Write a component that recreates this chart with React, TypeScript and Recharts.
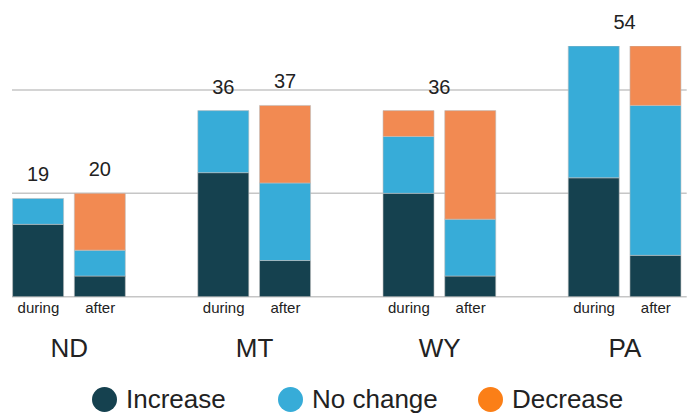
import { Bar, BarChart, CartesianGrid, LabelList, XAxis, YAxis } from "recharts";

const states = ["ND", "MT", "WY", "PA"];
const periods = ["during", "after"];
// one value per bar, in order ND during, ND after, MT during, ...
const increase = [14, 4, 24, 7, 20, 4, 23, 8];
const noChange = [5, 5, 12, 15, 11, 11, 31, 29];
const decrease = [0, 11, 0, 15, 5, 21, 0, 17];
const totals = ["19", "20", "36", "37", "36", "", "54", ""];
// WY and PA show one total for the pair, centred over both bars
const sharedTotal = [false, false, false, false, true, false, true, false];
const yTicks = [0, 20, 40];
const yMax = 48.5;

const W = 691;
const H = 416;
const xAxisHeight = 30;
const margin = { top: 46, right: 4.3, bottom: 119.3 - xAxisHeight, left: 7.6 };
const plotBottom = H - margin.bottom - xAxisHeight;
const slot = (W - margin.left - margin.right) / 11;

const colors = {
  increase: "#15414f",
  noChange: "#37acd8",
  decrease: "#f28a52",
  legendDecrease: "#fb7f17",
  text: "#222",
  grid: "#c6c6c6",
};

const seriesKeys = ["increase", "noChange", "decrease"] as const;

type Row = {
  key: string;
  state?: string;
  period?: string;
  increase?: number;
  noChange?: number;
  decrease?: number;
  total?: string;
  shared?: boolean;
};

const rows: Row[] = [];
states.forEach((state, s) => {
  periods.forEach((period, p) => {
    const i = s * 2 + p;
    rows.push({
      key: `${state}-${period}`,
      state,
      period,
      increase: increase[i],
      noChange: noChange[i],
      decrease: decrease[i],
      total: totals[i],
      shared: sharedTotal[i],
    });
  });
  // empty slot between the state groups
  if (s < states.length - 1) rows.push({ key: `gap-${s}` });
});

function PeriodTick(props: any) {
  const { x, payload } = props;
  const row = rows.find((r) => r.key === payload.value);
  if (!row || !row.period) return null;
  return (
    <g>
      <text x={x} y={plotBottom + 16.5} textAnchor="middle" fontSize={15} fill={colors.text}>
        {row.period}
      </text>
      {row.period === "during" && (
        <text x={x + slot / 2} y={plotBottom + 60.5} textAnchor="middle" fontSize={26} fill={colors.text}>
          {row.state}
        </text>
      )}
    </g>
  );
}

// total goes on whichever segment is the top one of its bar
function totalLabel(series: (typeof seriesKeys)[number]) {
  return (props: any) => {
    const { x, y, width, value } = props;
    const row = rows.find((r) => r.key === value);
    if (!row || !row.total) return null;
    const topSeries = [...seriesKeys].reverse().find((k) => (row[k] ?? 0) > 0);
    if (topSeries !== series) return null;
    const top = Math.max(Number(y), margin.top);
    const cx = Number(x) + Number(width) / 2 + (row.shared ? slot / 2 : 0);
    return (
      <text key={`t-${row.key}`} x={cx} y={top - 17} textAnchor="middle" fontSize={20} fill={colors.text}>
        {row.total}
      </text>
    );
  };
}

const legendItems = [
  { name: "Increase", color: colors.increase, left: 92 },
  { name: "No change", color: colors.noChange, left: 278 },
  { name: "Decrease", color: colors.legendDecrease, left: 478 },
];

export default function App() {
  return (
    <div
      style={{
        position: "absolute",
        left: 0,
        top: 0,
        width: W,
        height: H,
        background: "#fff",
        fontFamily: "'Liberation Sans', Arial, sans-serif",
      }}
    >
      <BarChart width={W} height={H} data={rows} margin={margin} barSize={51}>
        <CartesianGrid
          vertical={false}
          horizontal={(p: any) =>
            p.y1 < margin.top + 2 ? (
              <g key={`h-${p.index}-${p.y1}`} />
            ) : (
              <line
                key={`h-${p.index}-${p.y1}`}
                x1={12}
                x2={p.x2}
                y1={p.y1}
                y2={p.y2}
                stroke={colors.grid}
                strokeWidth={1.5}
              />
            )
          }
        />
        <XAxis
          dataKey="key"
          height={xAxisHeight}
          interval={0}
          axisLine={false}
          tickLine={false}
          tick={<PeriodTick />}
        />
        <YAxis hide domain={[0, yMax]} ticks={yTicks} allowDataOverflow />
        {seriesKeys.map((k) => (
          <Bar
            key={k}
            dataKey={k}
            stackId="s"
            fill={colors[k]}
            stroke="#bdbdbd"
            strokeWidth={0.6}
            isAnimationActive={false}
          >
            <LabelList dataKey="key" content={totalLabel(k)} />
          </Bar>
        ))}
      </BarChart>
      {legendItems.map((item) => (
        <div
          key={item.name}
          style={{
            position: "absolute",
            left: item.left,
            top: 387,
            height: 25,
            display: "flex",
            alignItems: "center",
            gap: 9,
            fontSize: 26,
            color: colors.text,
            whiteSpace: "nowrap",
          }}
        >
          <span
            style={{
              width: 25,
              height: 25,
              borderRadius: "50%",
              background: item.color,
              display: "inline-block",
            }}
          />
          <span>{item.name}</span>
        </div>
      ))}
    </div>
  );
}
